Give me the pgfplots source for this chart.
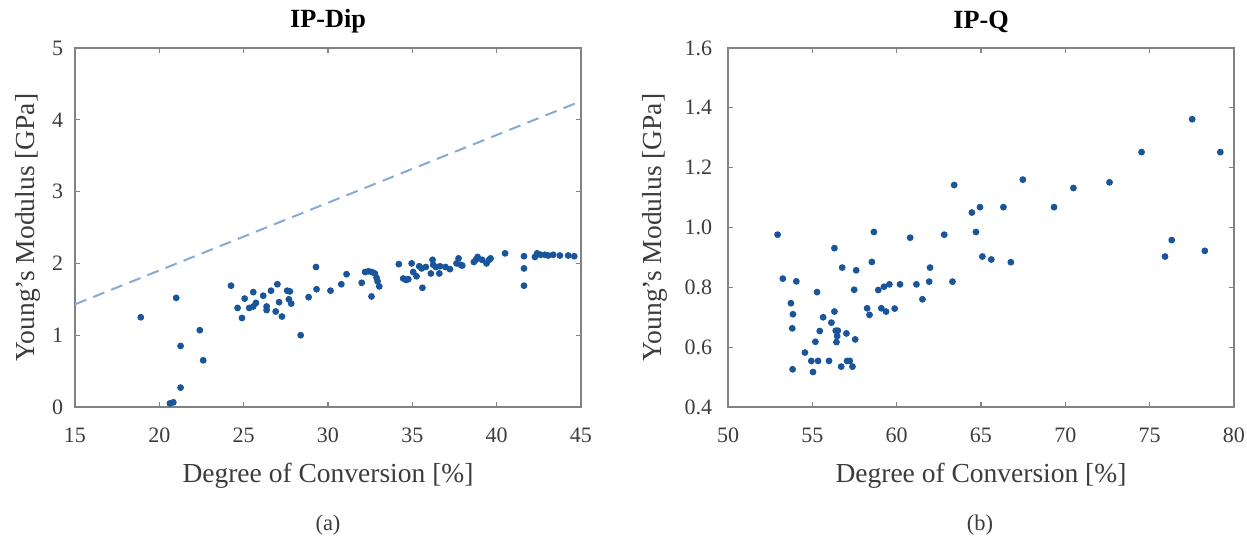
\documentclass[border=0pt]{standalone}
\usepackage{pgfplots}
\pgfplotsset{compat=1.18}
\usepackage{fontspec}
\setmainfont{Liberation Serif}
\definecolor{dotblue}{RGB}{25,85,155}
\definecolor{lineblue}{RGB}{135,170,212}
\definecolor{axgray}{RGB}{130,130,130}
\definecolor{txtgray}{RGB}{60,60,60}
\pgfplotsset{
  myax/.style={
    scale only axis, width=202.4pt, height=143.6pt,
    anchor=south west,
    axis line style={axgray, line width=0.5pt},
    tick style={axgray, line width=0.5pt},
    major tick length=2pt,
    tick align=inside, tick pos=both,
    /pgf/number format/assume math mode=true,
    ticklabel style={font=\fontsize{8.8}{10}\selectfont, text=txtgray},
    xticklabel style={yshift=-5pt},
    label style={font=\fontsize{11}{13}\selectfont, text=txtgray},
    xlabel style={yshift=-1pt},
    title style={font=\fontsize{10.5}{12}\selectfont\bfseries, yshift=-3.5pt},
  },
  dots/.style={only marks, mark=*, mark size=1.15pt, mark options={draw=dotblue, fill=dotblue}},
}
\begin{document}
\begin{tikzpicture}
\useasboundingbox (0,0) rectangle (498.8pt,-219.2pt);
\begin{axis}[myax, at={(30pt,-162.8pt)},
  xmin=15, xmax=45, ymin=0, ymax=5,
  xtick={15,20,...,45}, ytick={0,1,...,5},
  yticklabel style={xshift=-1.2pt},
  ylabel style={yshift=-2pt},
  title={IP-Dip},
  xlabel={Degree of Conversion [\%]},
  ylabel={Young's Modulus [GPa]},
]
\addplot[no marks, color=lineblue, line width=0.8pt, dash pattern=on 4.8pt off 3pt] coordinates {(15,1.43) (45,4.26)};
\addplot[dots] coordinates {
(18.9,1.25) (21.0,1.52) (22.4,1.07) (21.26,0.85) (22.6,0.65) (21.26,0.27) (20.63,0.05) (20.83,0.065)
(24.25,1.69) (25.06,1.51) (25.57,1.60) (24.64,1.38) (24.9,1.24) (25.33,1.38) (25.57,1.40) (25.73,1.45)
(26.16,1.55) (26.36,1.40) (26.36,1.35) (26.62,1.62) (27.0,1.71) (27.1,1.46) (26.9,1.33) (27.27,1.26)
(27.58,1.62) (27.74,1.61) (27.68,1.50) (27.82,1.44) (28.38,1.00) (28.85,1.53) (29.29,1.95) (29.32,1.64)
(30.15,1.62) (30.79,1.71) (31.1,1.85) (32.0,1.73) (32.2,1.88) (32.4,1.89) (32.6,1.88) (32.78,1.86)
(32.88,1.80) (32.94,1.75) (33.04,1.68) (32.58,1.54) (34.2,1.99) (34.46,1.79) (34.62,1.77) (34.76,1.78)
(34.96,2.00) (35.05,1.88) (35.25,1.82) (35.41,1.96) (35.55,1.93) (35.6,1.66) (35.8,1.95) (36.1,1.86)
(36.2,2.05) (36.24,1.98) (36.4,1.95) (36.6,1.86) (36.64,1.96) (36.97,1.95) (37.23,1.92) (37.62,2.00)
(37.74,2.07) (37.88,1.98) (37.96,1.97) (38.65,2.02) (38.77,2.05) (38.87,2.09) (39.14,2.05) (39.4,2.00)
(39.55,2.05) (39.64,2.07) (40.5,2.14) (41.62,2.10) (41.62,1.93) (41.62,1.69) (42.27,2.09) (42.4,2.14)
(42.6,2.12) (42.86,2.12) (43.06,2.11) (43.35,2.12) (43.75,2.11) (44.24,2.11) (44.6,2.10)
};
\end{axis}
\node[font=\fontsize{9}{11}\selectfont, text=txtgray] at (131.2pt,-210pt) {(a)};
\begin{axis}[myax, at={(291.2pt,-162.8pt)},
  xmin=50, xmax=80, ymin=0.4, ymax=1.6,
  xtick={50,55,...,80}, ytick={0.4,0.6,...,1.6},
  yticklabel style={xshift=-2.8pt, /pgf/number format/fixed, /pgf/number format/fixed zerofill, /pgf/number format/precision=1},
  title={IP-Q},
  xlabel={Degree of Conversion [\%]},
  ylabel={Young's Modulus [GPa]},
]
\addplot[dots] coordinates {
(52.94,0.976) (53.25,0.829) (54.05,0.82) (53.73,0.747) (53.85,0.71) (53.81,0.663) (53.83,0.526)
(54.56,0.582) (54.94,0.554) (55.34,0.554) (55.04,0.517) (55.18,0.618) (55.44,0.654) (55.28,0.784)
(55.64,0.70) (55.99,0.554) (56.13,0.682) (56.31,0.719) (56.31,0.931) (56.39,0.655) (56.51,0.655)
(56.47,0.637) (56.43,0.617) (56.71,0.535) (56.77,0.866) (57.02,0.646) (57.06,0.554) (57.22,0.554)
(57.38,0.535) (57.54,0.626) (57.6,0.857) (57.48,0.792) (58.53,0.885) (58.65,0.985) (58.25,0.73)
(58.39,0.708) (58.91,0.791) (59.09,0.73) (59.37,0.719) (59.25,0.802) (59.57,0.81) (59.88,0.729)
(60.2,0.81) (60.8,0.966) (61.17,0.81) (61.93,0.819) (61.53,0.76) (61.98,0.866) (62.82,0.976)
(63.31,0.819) (63.41,1.142) (64.46,1.05) (64.70,0.985) (64.94,1.068) (65.08,0.903) (65.61,0.893)
(66.33,1.068) (66.77,0.884) (67.48,1.16) (69.33,1.068) (70.48,1.132) (72.62,1.151) (74.52,1.252)
(75.91,0.903) (76.31,0.958) (77.52,1.362) (78.27,0.922) (79.19,1.252)
};
\end{axis}
\node[font=\fontsize{9}{11}\selectfont, text=txtgray] at (392pt,-210pt) {(b)};
\end{tikzpicture}
\end{document}
